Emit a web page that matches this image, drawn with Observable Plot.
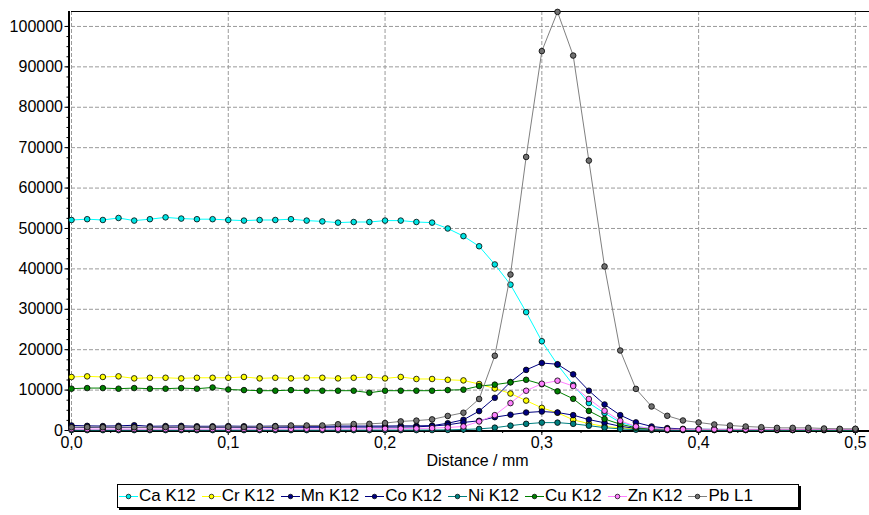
<!DOCTYPE html>
<html>
<head>
<meta charset="utf-8">
<script src="https://cdn.jsdelivr.net/npm/d3@7"></script>
<script src="https://cdn.jsdelivr.net/npm/@observablehq/plot@0.6"></script>
<style>
  body { margin: 0; background: #fff; font-family: "Liberation Sans", Arial, sans-serif; }
  #chart { position: absolute; left: 0; top: 0; }
  #legend {
    position: absolute; left: 117px; top: 484px; height: 22px;
    border: 1px solid #000; box-shadow: 2px 2px 0 #000; background: #fff;
    display: flex; align-items: center; padding: 0 1px;
    font-size: 17px; color: #000; white-space: nowrap;
  }
  #legend .item { display: flex; align-items: center; margin-right: 6px; }
  #legend .item:last-child { margin-right: 44px; }
  #legend svg { margin-right: 1px; }
</style>
</head>
<body>
<div id="chart"></div>
<div id="legend"></div>
<script>
// Line scan across the sample: distance in mm
const distance = [
  0.00, 0.01, 0.02, 0.03, 0.04, 0.05, 0.06, 0.07, 0.08, 0.09,
  0.10, 0.11, 0.12, 0.13, 0.14, 0.15, 0.16, 0.17, 0.18, 0.19,
  0.20, 0.21, 0.22, 0.23, 0.24, 0.25, 0.26, 0.27, 0.28, 0.29,
  0.30, 0.31, 0.32, 0.33, 0.34, 0.35, 0.36, 0.37, 0.38, 0.39,
  0.40, 0.41, 0.42, 0.43, 0.44, 0.45, 0.46, 0.47, 0.48, 0.49,
  0.50
];

// Net intensities per element line (counts)
const caK12 = [
  52100, 52300, 52100, 52600, 51950, 52300, 52750, 52450, 52300, 52300,
  52100, 51950, 52100, 52100, 52300, 51950, 51750, 51450, 51600, 51600,
  51950, 51950, 51600, 51450, 50000, 48100, 45600, 41100, 36100, 29300,
  22100, 16300, 11300, 6800, 4300, 2000, 1000, 500, 350, 300,
  300, 280, 280, 260, 260, 250, 250, 250, 240, 240,
  240
];
const crK12 = [
  13250, 13400, 13250, 13400, 12900, 13050, 13050, 12900, 13050, 13050,
  13050, 13250, 12900, 13050, 12900, 13050, 13050, 12900, 13050, 13250,
  12900, 13250, 12750, 12750, 12550, 12400, 11500, 10400, 9150, 7400,
  5600, 4400, 2650, 1700, 1000, 650, 450, 350, 300, 280,
  260, 250, 250, 240, 240, 230, 230, 220, 220, 220,
  220
];
const mnK12 = [
  1250, 1150, 1100, 1150, 1300, 1050, 1100, 1150, 1050, 1050,
  1100, 1050, 1050, 1100, 1100, 1050, 1050, 1100, 1100, 1100,
  1100, 1150, 1150, 1200, 1800, 2650, 4800, 8100, 12000, 15000,
  16700, 16400, 13900, 9850, 6450, 3800, 2000, 1000, 580, 400,
  300, 260, 250, 240, 230, 220, 220, 210, 210, 200,
  200
];
const coK12 = [
  800, 750, 800, 750, 800, 750, 750, 800, 750, 750,
  800, 750, 800, 800, 800, 800, 800, 850, 850, 850,
  850, 850, 900, 1100, 1400, 2000, 2400, 3300, 3900, 4450,
  4700, 4450, 3800, 2700, 1900, 1050, 500, 300, 220, 200,
  180, 170, 160, 160, 150, 150, 150, 150, 140, 140,
  140
];
const niK12 = [
  100, 100, 100, 100, 100, 100, 100, 100, 100, 100,
  100, 100, 100, 100, 100, 100, 100, 100, 100, 100,
  100, 100, 100, 110, 150, 250, 400, 700, 1200, 1650,
  1950, 1950, 1650, 1200, 700, 400, 200, 130, 110, 100,
  100, 100, 100, 100, 100, 100, 100, 100, 100, 100,
  100
];
const cuK12 = [
  10350, 10500, 10500, 10350, 10500, 10350, 10350, 10500, 10350, 10650,
  10150, 10000, 9850, 9850, 10000, 9850, 9850, 9850, 9850, 9350,
  9850, 9850, 9850, 9850, 10000, 10100, 11000, 11350, 11900, 12550,
  11450, 9700, 7850, 4850, 2850, 1550, 700, 400, 260, 230,
  210, 200, 200, 190, 190, 180, 180, 180, 170, 170,
  170
];
const znK12 = [
  380, 350, 380, 350, 380, 350, 380, 380, 350, 380,
  380, 400, 380, 400, 400, 420, 400, 420, 420, 450,
  450, 450, 500, 580, 740, 1000, 2230, 3800, 6780, 9840,
  11580, 12320, 11000, 7800, 4880, 2400, 1000, 500, 320, 300,
  300, 300, 300, 300, 300, 300, 290, 290, 290, 280,
  280
];
const pbL1 = [
  800, 850, 800, 850, 800, 750, 850, 850, 800, 850,
  900, 850, 950, 1000, 1250, 1250, 1250, 1550, 1600, 1650,
  1850, 2250, 2450, 2750, 3600, 4400, 7800, 18500, 38600, 67700,
  93900, 103600, 92800, 66800, 40600, 19800, 10300, 5950, 3640, 2480,
  1990, 1490, 1240, 990, 820, 660, 660, 660, 500, 420,
  420
];

const seriesNames = ["Ca K12", "Cr K12", "Mn K12", "Co K12", "Ni K12", "Cu K12", "Zn K12", "Pb L1"];
const seriesValues = [caK12, crK12, mnK12, coK12, niK12, cuK12, znK12, pbL1];
const lineColors = ["#00ffff", "#ffff00", "#000080", "#000080", "#008080", "#008000", "#ff80ff", "#808080"];
const dotColors  = ["#00e5e5", "#ffff00", "#000080", "#000080", "#008080", "#008000", "#ff80ff", "#707070"];

const xMajor = [0, 0.1, 0.2, 0.3, 0.4, 0.5];
const xMinor = d3.range(0, 0.5001, 0.025);
const yMajor = d3.range(0, 100001, 10000);
const yMinor = d3.range(0, 100001, 2500);
const yTop = 103700;
const xRight = 0.509;

const commaDecimal = d => d3.format(".1f")(d).replace(".", ",");

const seriesMarks = seriesNames.flatMap((name, s) => {
  const rows = distance.map((d, i) => ({distance: d, value: seriesValues[s][i]}));
  return [
    Plot.line(rows, {x: "distance", y: "value", stroke: lineColors[s], strokeWidth: 1}),
    Plot.dot(rows, {x: "distance", y: "value", r: 2.8, fill: dotColors[s], stroke: "#000", strokeWidth: 0.8})
  ];
});

const chart = Plot.plot({
  width: 869,
  height: 475,
  marginLeft: 71,
  marginRight: 0,
  marginTop: 11,
  marginBottom: 45,
  style: {fontFamily: "'Liberation Sans', Arial, sans-serif", fontSize: "16px", color: "#000", background: "#fff"},
  x: {domain: [0, xRight], label: null},
  y: {domain: [0, yTop], label: null},
  marks: [
    // dashed grid
    Plot.ruleX(xMajor, {stroke: "#9a9a9a", strokeDasharray: "4,2", strokeWidth: 1}),
    Plot.ruleY(yMajor.slice(1), {stroke: "#9a9a9a", strokeDasharray: "4,2", strokeWidth: 1}),
    // minor ticks
    Plot.axisX({ticks: xMinor, tickSize: 3, tickFormat: () => "", stroke: "#000", label: null}),
    Plot.axisY({ticks: yMinor, tickSize: 2, dx: -2.5, tickFormat: () => "", stroke: "#000", label: null}),
    // major ticks with labels
    Plot.axisX({ticks: xMajor, tickSize: 5, tickPadding: 1, tickFormat: commaDecimal, fontSize: 16, label: null}),
    Plot.axisY({ticks: yMajor, tickSize: 4, tickPadding: 2, dx: -2.5, tickFormat: d3.format("d"), fontSize: 16, label: null}),
    // frame lines
    Plot.ruleY([yTop], {stroke: "#000", strokeWidth: 1}),
    Plot.ruleX([0], {stroke: "#000", strokeWidth: 2, dx: -2.5, y1: 0, y2: yTop}),
    Plot.ruleY([0], {stroke: "#000", strokeWidth: 2, dy: 0.5, x1: 0, x2: xRight}),
    ...seriesMarks,
    Plot.text(["Distance / mm"], {frameAnchor: "bottom", dx: 7, dy: 35, fontSize: 16, fill: "#000"})
  ]
});
document.getElementById("chart").appendChild(chart);

// legend row
const legend = d3.select("#legend");
seriesNames.forEach((name, s) => {
  const item = legend.append("div").attr("class", "item");
  const sym = item.append("svg").attr("width", 19).attr("height", 12);
  sym.append("line").attr("x1", 0).attr("x2", 19).attr("y1", 6.5).attr("y2", 6.5)
    .attr("stroke", lineColors[s]).attr("stroke-width", 1);
  sym.append("circle").attr("cx", 9.5).attr("cy", 6.5).attr("r", 2.3)
    .attr("fill", dotColors[s]).attr("stroke", "#000").attr("stroke-width", 0.7);
  item.append("span").text(name);
});
</script>
</body>
</html>
